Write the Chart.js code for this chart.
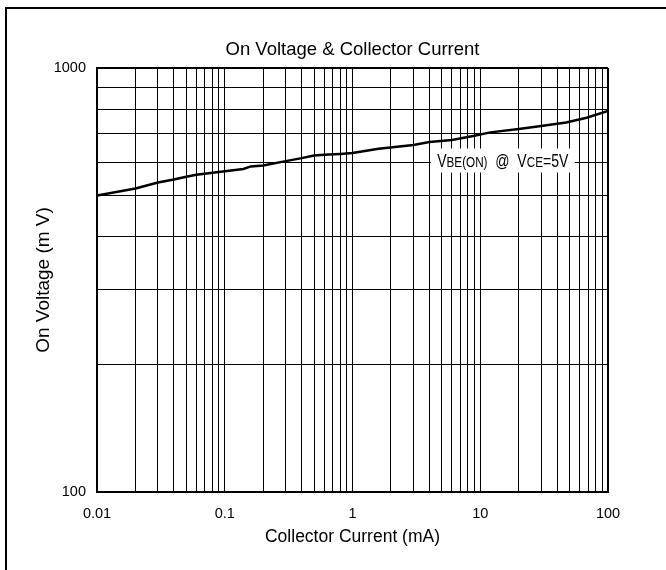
<!DOCTYPE html>
<html>
<head>
<meta charset="utf-8">
<script src="https://cdn.jsdelivr.net/npm/chart.js@4.4.1/dist/chart.umd.min.js"></script>
<style>
  html, body { margin: 0; padding: 0; background: #fff; overflow: hidden; }
  #wrap { position: relative; width: 666px; height: 570px; }
  #frame { position: absolute; left: 5px; top: 7px; width: 700px; height: 600px;
           border-left: 2.5px solid #000; border-top: 2.5px solid #000; pointer-events: none; }
</style>
</head>
<body>
<div id="wrap">
  <canvas id="chart"></canvas>
  <div id="frame"></div>
</div>
<script>
// --- Data ---
const currentMA = [0.01, 0.02, 0.03, 0.04, 0.05, 0.06, 0.1, 0.14, 0.16, 0.2, 0.3, 0.4, 0.5, 0.6,
                   0.8, 1, 1.6, 3, 4, 6, 9, 12, 20, 30, 47, 68, 100];
const onVoltageMV = [500, 520, 537, 546, 554, 560, 571, 578, 586, 589, 603, 613, 622, 624,
                     627, 630, 645, 658, 669, 676, 692, 705, 718, 730, 744, 763, 792];

// tick labels
const xLabelTicks = [0.01, 0.1, 1, 10, 100];
const yLabelTicks = [100, 1000];
const xDecades = [0.01, 0.1, 1, 10];
const yDecades = [100];

// grid lines at 1..9 of every decade
function gridValues(decades, last) {
    const out = [];
    decades.forEach(d => {
        for (let k = 1; k <= 9; k++) out.push(d * k);
    });
    out.push(last);
    return out;
}
const xGrid = gridValues(xDecades, 100);
const yGrid = gridValues(yDecades, 1000);

Chart.defaults.font.family = "'Liberation Sans', Arial, sans-serif";
Chart.defaults.color = '#000';

// label box "VBE(ON) @ VCE=5V" with subscripts
const vbeLabel = {
    id: 'vbeLabel',
    afterDatasetsDraw(chart, args, opts) {
        const { ctx, scales: { x, y } } = chart;
        const cx = x.getPixelForValue(opts.xValue);
        const cy = y.getPixelForValue(opts.yValue);
        const w = opts.boxWidth, h = opts.boxHeight;
        ctx.save();
        ctx.fillStyle = '#fff';
        ctx.fillRect(cx - w / 2, cy - h / 2, w, h);

        const parts = opts.parts;
        const fam = Chart.defaults.font.family;
        let total = 0;
        parts.forEach(p => {
            ctx.font = p[1] + 'px ' + fam;
            total += ctx.measureText(p[0]).width;
        });
        ctx.translate(cx, cy + opts.baseline);
        ctx.scale(opts.squeeze, 1);
        ctx.fillStyle = '#000';
        ctx.textBaseline = 'alphabetic';
        ctx.textAlign = 'left';
        let px = -total / 2;
        parts.forEach(p => {
            ctx.font = p[1] + 'px ' + fam;
            ctx.fillText(p[0], px, 0);
            px += ctx.measureText(p[0]).width;
        });
        ctx.restore();
    }
};

const ctx = document.getElementById('chart').getContext('2d');
new Chart(ctx, {
    type: 'line',
    data: {
        datasets: [{
            data: currentMA.map((c, i) => ({ x: c, y: onVoltageMV[i] })),
            borderColor: '#000',
            borderWidth: 2.5,
            pointRadius: 0,
            tension: 0,
            fill: false
        }]
    },
    options: {
        responsive: true,
        maintainAspectRatio: false,
        animation: false,
        layout: { padding: { left: 0, right: 58, top: 0, bottom: 0 } },
        plugins: {
            legend: { display: false },
            tooltip: { enabled: false },
            title: {
                display: true,
                fullSize: false,
                text: 'On Voltage & Collector Current',
                font: { size: 18.5, weight: 'normal' },
                color: '#000',
                padding: { top: 39, bottom: 6.8 }
            },
            vbeLabel: {
                xValue: 15,
                yValue: 605,
                boxWidth: 144,
                boxHeight: 24,
                baseline: 6.5,
                squeeze: 0.78,
                parts: [['V', 18], ['BE(ON)', 15], ['  @  V', 18], ['CE', 15], ['=5V', 18]]
            }
        },
        scales: {
            x: {
                type: 'logarithmic',
                min: 0.01,
                max: 100,
                afterBuildTicks: s => { s.ticks = xGrid.map(v => ({ value: v })); },
                afterFit: s => { s.height = 78; },
                ticks: {
                    autoSkip: false,
                    maxRotation: 0,
                    padding: 13,
                    font: { size: 14.5 },
                    color: '#000',
                    callback: v => xLabelTicks.includes(v) ? String(v) : ''
                },
                grid: {
                    color: '#000',
                    drawTicks: false,
                    lineWidth: c => (c.tick && c.tick.value === 100 ? 2 : 1)
                },
                border: { display: true, color: '#000', width: 2 },
                title: {
                    display: true,
                    text: 'Collector Current (mA)',
                    font: { size: 17.5 },
                    color: '#000',
                    padding: { top: 0, bottom: 22.5 }
                }
            },
            y: {
                type: 'logarithmic',
                min: 100,
                max: 1000,
                afterBuildTicks: s => { s.ticks = yGrid.map(v => ({ value: v })); },
                afterFit: s => { s.width = 97; },
                ticks: {
                    autoSkip: false,
                    padding: 11,
                    font: { size: 14.5 },
                    color: '#000',
                    callback: v => yLabelTicks.includes(v) ? String(v) : ''
                },
                grid: {
                    color: '#000',
                    drawTicks: false,
                    lineWidth: c => (c.tick && c.tick.value === 1000 ? 2 : 1)
                },
                border: { display: true, color: '#000', width: 2 },
                title: {
                    display: true,
                    text: 'On Voltage (m V)',
                    font: { size: 19 },
                    color: '#000',
                    padding: { top: 32, bottom: 0 }
                }
            }
        }
    },
    plugins: [vbeLabel]
});
</script>
</body>
</html>
